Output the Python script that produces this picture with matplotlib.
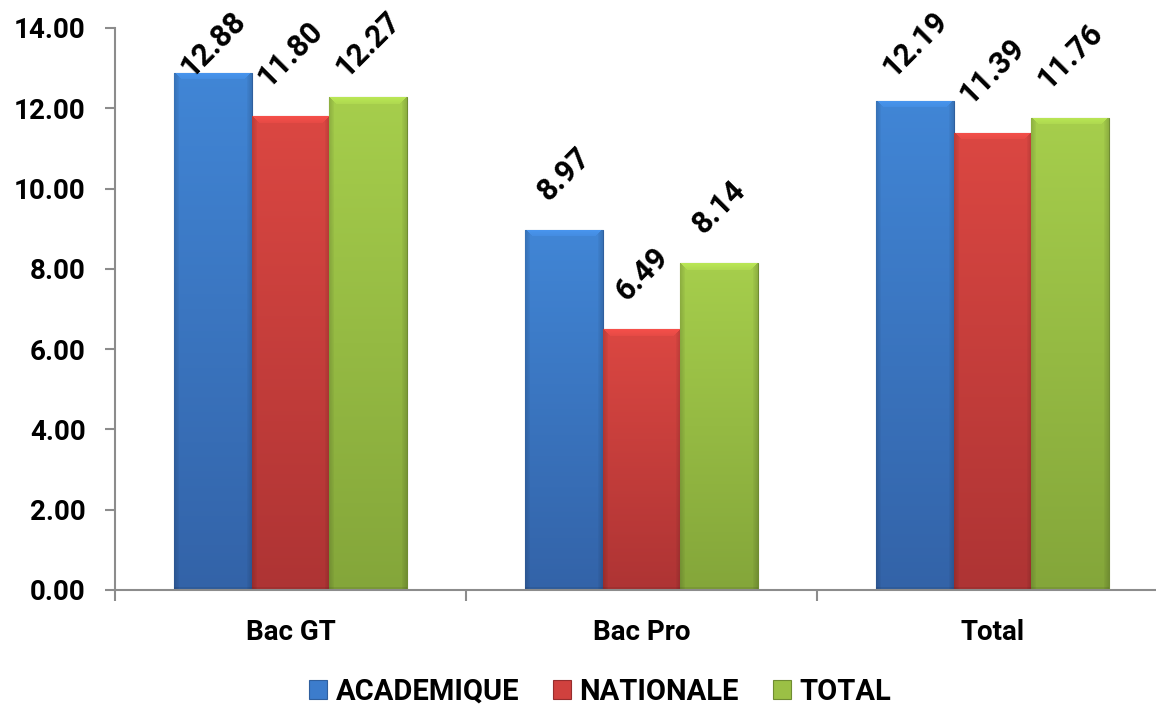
import matplotlib
matplotlib.use("Agg")
import matplotlib.pyplot as plt
import matplotlib.colors as mcolors
import numpy as np

categories = ["Bac GT", "Bac Pro", "Total"]
series_names = ["ACADEMIQUE", "NATIONALE", "TOTAL"]
academique = [12.88, 8.97, 12.19]
nationale = [11.80, 6.49, 11.39]
total = [12.27, 8.14, 11.76]
yticks = [0, 2, 4, 6, 8, 10, 12, 14]

colors = ["#3C7CCC", "#D0413E", "#9BC045"]
tops = ["#4186D6", "#DB4742", "#A6CE4C"]
bottoms = ["#3363A8", "#AE3434", "#84A63A"]
edges = ["#2F5F9E", "#962D2D", "#6F8C32"]

plt.rcParams['font.family'] = ['Roboto', 'DejaVu Sans']
plt.rcParams['font.weight'] = 'bold'
FS = 20

fig = plt.figure(figsize=(11.56, 7.05), dpi=100)
ax = fig.add_axes([115/1156, 1-590/705, (1168-115)/1156, (590-28)/705])
ax.set_xlim(-0.5, 2.5)
ax.set_ylim(0, 14)

x = np.arange(len(categories))
w = 0.222
handles = []
labels = []


def shade(bar, top, bottom):
    x0, y0 = bar.get_x(), bar.get_y()
    x1, y1 = x0 + bar.get_width(), y0 + bar.get_height()
    p0 = ax.transData.transform((x0, y0))
    p1 = ax.transData.transform((x1, y1))
    W = max(int(round(p1[0] - p0[0])), 2)
    H = max(int(round(p1[1] - p0[1])), 2)
    ct = np.array(mcolors.to_rgb(top))
    cb = np.array(mcolors.to_rgb(bottom))
    ii, jj = np.mgrid[0:H, 0:W]
    t = (ii / (H - 1))[..., None]
    img = ct * (1 - t) + cb * t
    d = np.minimum(jj, W - 1 - jj)
    bev = 7
    fac = np.ones((H, W))
    side = (d < 5) & (d <= ii)
    fac[side] = 0.86 + 0.025 * d[side]
    topb = (ii < bev) & (ii < d)
    fac[topb] = 1.12 - 0.01 * ii[topb]
    fac[ii > H - 4] *= 0.92
    img = np.clip(img * fac[..., None], 0, 1)
    im = ax.imshow(img, extent=(x0, x1, y0, y1), origin="upper",
                   aspect="auto", zorder=2.5, interpolation="bilinear")
    im.set_clip_path(bar)


for i, (vals, name) in enumerate(zip([academique, nationale, total], series_names)):
    pos = x + (i - 1) * w
    b = ax.bar(pos, vals, width=w, color=colors[i], edgecolor=edges[i],
               linewidth=0.8, label=name, zorder=2)
    handles.append(b)
    for bar in b:
        shade(bar, tops[i], bottoms[i])
    for p, v in zip(pos, vals):
        a = ax.annotate(f"{v:.2f}", (p, v), xytext=(0, 17), textcoords="offset points",
                        ha="center", va="bottom", rotation=45, fontsize=22,
                        fontweight="bold", color="black", zorder=5,
                        annotation_clip=False)
        labels.append(a)

ax.set_xlim(-0.5, 2.5)
ax.set_ylim(0, 14)
ax.set_yticks(yticks)
ax.set_yticklabels([f"{t:.2f}" for t in yticks], fontsize=FS, fontweight="bold")
ax.set_xticks(x)
ax.set_xticklabels(categories, fontsize=FS, fontweight="bold")
ax.set_xticks([-0.5, 0.5, 1.5, 2.5], minor=True)
ax.tick_params(axis="x", which="major", length=0, pad=21)
ax.tick_params(axis="x", which="minor", length=8, width=1.5, color="#8c8c8c")
ax.tick_params(axis="y", which="major", length=7, width=1.5, color="#8c8c8c", pad=14)

for s in ["top", "right"]:
    ax.spines[s].set_visible(False)
for s in ["left", "bottom"]:
    ax.spines[s].set_color("#8c8c8c")
    ax.spines[s].set_linewidth(1.5)
    ax.spines[s].set_zorder(4)

fig.legend(handles=handles, labels=series_names, loc="center",
           bbox_to_anchor=(600/1156, 1-692/705), ncol=3, frameon=False,
           handlelength=0.62, handleheight=0.62, handletextpad=0.3,
           columnspacing=1.15, prop={"weight": "bold", "size": 21})

# keep data labels inside the figure (as the original chart does)
fig.canvas.draw()
renderer = fig.canvas.get_renderer()
limit = fig.bbox.height - 5
for a in labels:
    bb = a.get_window_extent(renderer)
    if bb.y1 > limit:
        shift = (bb.y1 - limit) * 72 / fig.dpi
        ox, oy = a.xyann
        a.xyann = (ox, oy - shift)

fig.savefig("out.png", dpi=100)
